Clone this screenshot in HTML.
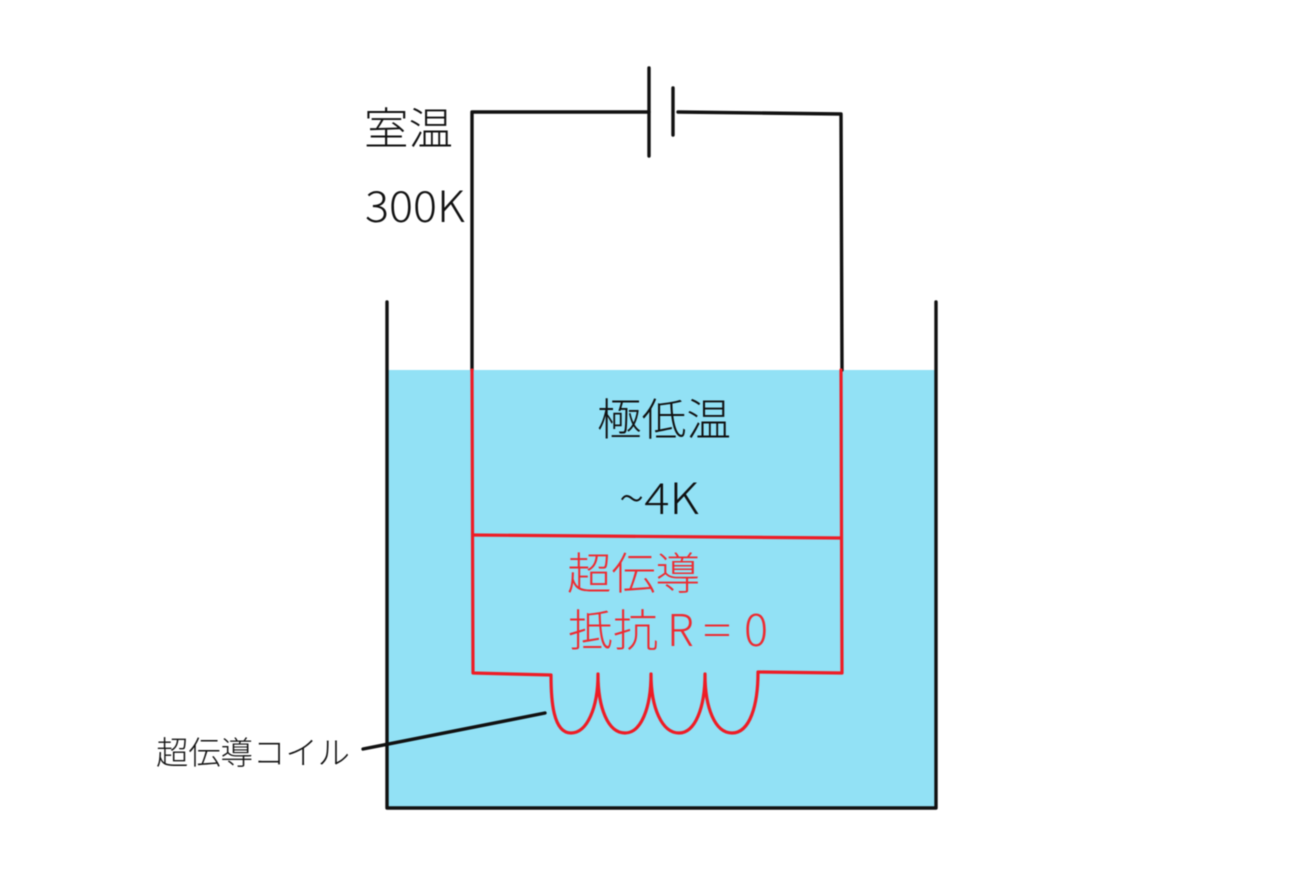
<!DOCTYPE html>
<html>
<head>
<meta charset="utf-8">
<style>
html,body{margin:0;padding:0;background:#fff;width:1300px;height:875px;overflow:hidden}
svg{display:block;filter:blur(0.6px)}
text{font-family:"Noto Sans CJK JP","Liberation Sans",sans-serif;font-weight:300}
</style>
</head>
<body>
<svg width="1300" height="875" viewBox="0 0 1300 875" xmlns="http://www.w3.org/2000/svg">
<rect x="387" y="370" width="549" height="438" fill="#92e1f5"/>
<g fill="none" stroke="#111" stroke-width="3.4" stroke-linecap="round" stroke-linejoin="round">
<path d="M387 302 L387 808 L936 808 L936 302"/>
<path d="M472 370 L472 112 L649 112"/>
<path d="M649 68 L649 156"/>
<path d="M673 88 L673 135"/>
<path d="M678 112 L841 114 L842 370"/>
<path d="M363 749 L545 713"/>
</g>
<g fill="none" stroke="#ee1c25" stroke-width="3.2" stroke-linecap="round" stroke-linejoin="round">
<path d="M472 370 L473 673 L551 675 C551 700 553 733 571 733 C587 733 598 708 598 674 C598 708 608 733 625 733 C641 733 651 708 651 674 C651 708 662 733 679 733 C695 733 705 708 705 674 C705 708 715 733 732 733 C750 733 758 705 758 672 L842 673 L841 370"/>
<path d="M473 535 L841 538"/>
</g>
<g fill="#111">
<text x="364" y="144" style="font-size:44px" textLength="89" lengthAdjust="spacingAndGlyphs">室温</text>
<text x="365" y="222" style="font-size:43px" textLength="100" lengthAdjust="spacingAndGlyphs">300K</text>
<text x="597" y="435" style="font-size:44px" textLength="134" lengthAdjust="spacingAndGlyphs">極低温</text>
<text x="619" y="514" style="font-size:43px" textLength="80" lengthAdjust="spacingAndGlyphs">~4K</text>
</g>
<g fill="#ee2a30">
<text x="567" y="589" style="font-size:44px" textLength="133" lengthAdjust="spacingAndGlyphs">超伝導</text>
<text x="568" y="646" style="font-size:44px" textLength="90" lengthAdjust="spacingAndGlyphs">抵抗</text>
<text x="667" y="646" style="font-size:44px">R</text>
<text x="703" y="646" style="font-size:43px" textLength="28" lengthAdjust="spacingAndGlyphs">=</text>
<text x="744" y="646" style="font-size:45px">0</text>
</g>
<text x="156" y="764" fill="#111" style="font-size:32px" textLength="194" lengthAdjust="spacingAndGlyphs">超伝導コイル</text>
</svg>
</body>
</html>
